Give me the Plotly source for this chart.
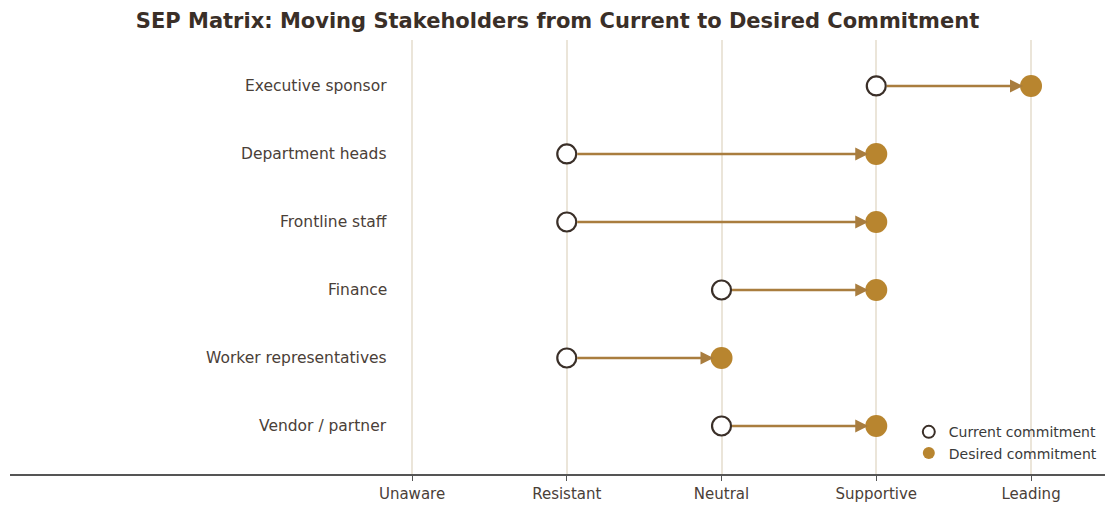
import plotly.graph_objects as go

# Commitment scale (left to right)
levels = ["Unaware", "Resistant", "Neutral", "Supportive", "Leading"]

# Stakeholder groups, top to bottom
stakeholders = [
    "Executive sponsor",
    "Department heads",
    "Frontline staff",
    "Finance",
    "Worker representatives",
    "Vendor / partner",
]
current_level = ["Supportive", "Resistant", "Resistant", "Neutral", "Resistant", "Neutral"]
desired_level = ["Leading", "Supportive", "Supportive", "Supportive", "Neutral", "Supportive"]

LINE_COL = "#a97d3e"
FILL_COL = "#b8852f"
EDGE_COL = "#3a2f28"
TEXT_COL = "#4a4038"
GRID_COL = "#ebe5d9"

cur_x = [levels.index(v) for v in current_level]
des_x = [levels.index(v) for v in desired_level]
rows = list(range(len(stakeholders)))

fig = go.Figure()

# Desired commitment (filled markers)
fig.add_trace(go.Scatter(
    x=des_x, y=rows, mode="markers", name="Desired commitment",
    marker=dict(size=22, color=FILL_COL, line=dict(width=0)),
    hoverinfo="skip",
))
# Current commitment (open markers)
fig.add_trace(go.Scatter(
    x=cur_x, y=rows, mode="markers", name="Current commitment",
    marker=dict(size=19, color="white", line=dict(width=2.2, color=EDGE_COL)),
    hoverinfo="skip",
))

annotations = []
# Arrows from current to desired
for r, (c, d) in enumerate(zip(cur_x, des_x)):
    annotations.append(dict(
        x=d, y=r, ax=c, ay=r, xref="x", yref="y", axref="x", ayref="y",
        showarrow=True, arrowhead=2, arrowsize=1.0, arrowwidth=2.6,
        arrowcolor=LINE_COL, standoff=8, startstandoff=9, text="",
    ))
# Stakeholder labels
for r, name in enumerate(stakeholders):
    annotations.append(dict(
        x=-0.15, y=r, xref="x", yref="y", text=name, showarrow=False,
        xanchor="right", yanchor="middle",
        font=dict(family="DejaVu Sans", size=15.5, color=TEXT_COL),
    ))

fig.update_layout(
    width=1105, height=518,
    margin=dict(l=10, r=0, t=40, b=44),
    paper_bgcolor="white", plot_bgcolor="white",
    title=dict(
        text="<b>SEP Matrix: Moving Stakeholders from Current to Desired Commitment</b>",
        x=0.5, xref="paper", xanchor="center", y=0.96, yanchor="middle",
        font=dict(family="DejaVu Sans", size=21, color="#3a2f28"),
    ),
    xaxis=dict(
        range=[-2.598, 4.478], tickmode="array",
        tickvals=list(range(len(levels))), ticktext=levels,
        showgrid=True, gridcolor=GRID_COL, gridwidth=1.5,
        zeroline=False, showline=True, linecolor="#555555", linewidth=1.6,
        ticks="outside", ticklen=5, tickcolor="#555555",
        tickfont=dict(family="DejaVu Sans", size=15, color=TEXT_COL),
    ),
    yaxis=dict(
        range=[5.706, -0.676], showticklabels=False, showgrid=False,
        zeroline=False, showline=False,
    ),
    legend=dict(
        x=0.998, y=0.072, xanchor="right", yanchor="middle",
        traceorder="reversed", bgcolor="rgba(0,0,0,0)",
        font=dict(family="DejaVu Sans", size=14, color="#3a3a3a"),
        itemsizing="constant", itemwidth=30, tracegroupgap=0,
    ),
    annotations=annotations,
    showlegend=True,
)

fig.write_html("out.html")
